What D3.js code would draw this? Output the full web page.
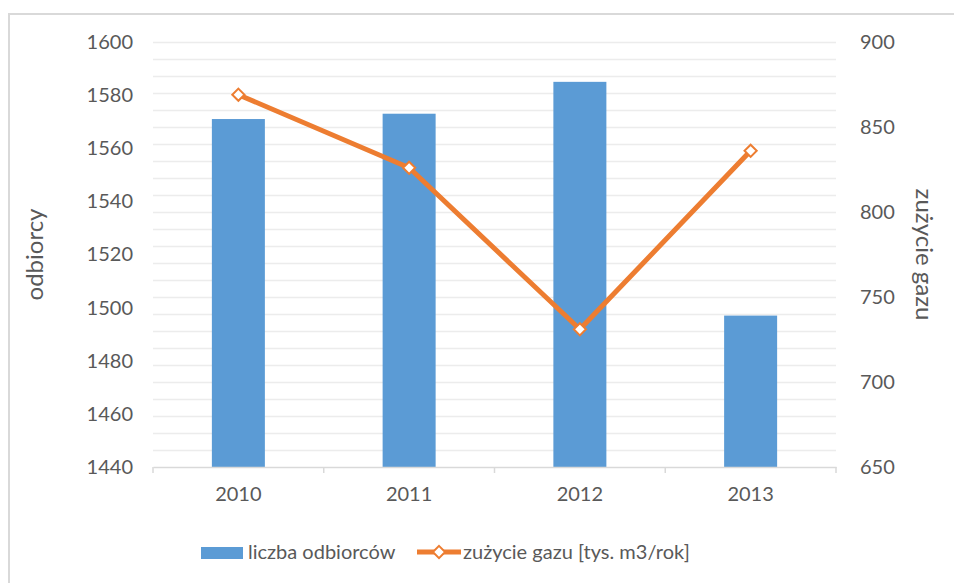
<!DOCTYPE html>
<html>
<head>
<meta charset="utf-8">
<script src="https://cdn.jsdelivr.net/npm/d3@7"></script>
<style>
  body { margin: 0; background: #fff; }
  text { font-family: Lato, "Open Sans", sans-serif; fill: #595959; }
</style>
</head>
<body>
<div id="chart"></div>
<script>
const years = ['2010', '2011', '2012', '2013']
const customers = [1571, 1573, 1585, 1497]
const gasUse = [869, 826, 731, 836]
const leftTicks = [1440, 1460, 1480, 1500, 1520, 1540, 1560, 1580, 1600]
const rightTicks = [650, 700, 750, 800, 850, 900]
const seriesNames = ['liczba odbiorców', 'zużycie gazu [tys. m3/rok]']

const W = 954, H = 583
const margin = { top: 42, right: 118, bottom: 116, left: 153 }
const width = W - margin.left - margin.right,
    height = H - margin.top - margin.bottom

const svg = d3.select('#chart')
    .append('svg')
    .attr('width', W)
    .attr('height', H)

// chart border
svg.append('rect')
    .attr('x', 9).attr('y', 14)
    .attr('width', W + 20).attr('height', H + 20)
    .attr('fill', 'none')
    .attr('stroke', '#d9d9d9')
    .attr('stroke-width', 2)

const g = svg.append('g')
    .attr('transform', 'translate(' + margin.left + ',' + margin.top + ')')

const xS = d3.scaleBand()
    .domain(years)
    .range([0, width])

const yL = d3.scaleLinear()
    .domain([1440, 1600])
    .range([height, 0])

const yR = d3.scaleLinear()
    .domain([650, 900])
    .range([height, 0])

// gridlines every 10 on the right scale
g.append('g')
    .call(d3.axisLeft(yR).tickValues(d3.range(660, 901, 10)).tickSize(-width).tickFormat(''))
    .call(a => a.select('.domain').remove())
    .call(a => a.selectAll('line').attr('stroke', '#ececec').attr('stroke-width', 1.5))

// left axis
g.append('g')
    .call(d3.axisLeft(yL).tickValues(leftTicks).tickFormat(d3.format('d')).tickSize(0).tickPadding(20))
    .call(a => a.select('.domain').remove())
    .selectAll('text')
    .style('font-size', '20px')

// right axis
g.append('g')
    .attr('transform', 'translate(' + width + ',0)')
    .call(d3.axisRight(yR).tickValues(rightTicks).tickSize(0).tickPadding(24))
    .call(a => a.select('.domain').remove())
    .selectAll('text')
    .style('font-size', '20px')

// bars
const barW = 53
g.selectAll('rect.bar')
    .data(customers)
    .enter()
    .append('rect')
    .attr('class', 'bar')
    .attr('fill', '#5b9bd5')
    .attr('x', (_, i) => xS(years[i]) + xS.bandwidth() / 2 - barW / 2)
    .attr('width', barW)
    .attr('y', d => yL(d))
    .attr('height', d => height - yL(d))

// x axis
g.append('g')
    .attr('transform', 'translate(0,' + height + ')')
    .call(d3.axisBottom(xS).tickSize(0).tickPadding(20))
    .call(a => a.select('.domain').attr('stroke', '#d9d9d9').attr('stroke-width', 1.5))
    .call(a => a.selectAll('text').style('font-size', '20px'))

// category separators on x axis
g.append('g')
    .selectAll('line')
    .data(d3.range(years.length + 1))
    .enter()
    .append('line')
    .attr('x1', i => i * xS.bandwidth())
    .attr('x2', i => i * xS.bandwidth())
    .attr('y1', height)
    .attr('y2', height + 6)
    .attr('stroke', '#d9d9d9')
    .attr('stroke-width', 1.5)

// line series
const line = d3.line()
    .x((_, i) => xS(years[i]) + xS.bandwidth() / 2)
    .y(d => yR(d))

g.append('path')
    .datum(gasUse)
    .attr('d', line)
    .attr('fill', 'none')
    .attr('stroke', '#ed7d31')
    .attr('stroke-width', 5)
    .attr('stroke-linejoin', 'round')

const diamond = d3.symbol().type(d3.symbolDiamond2).size(95)

g.selectAll('path.mk')
    .data(gasUse)
    .enter()
    .append('path')
    .attr('class', 'mk')
    .attr('d', diamond)
    .attr('transform', (d, i) => 'translate(' + (xS(years[i]) + xS.bandwidth() / 2) + ',' + yR(d) + ')')
    .attr('fill', '#fff')
    .attr('stroke', '#ed7d31')
    .attr('stroke-width', 2)

// axis titles
svg.append('text')
    .attr('transform', 'translate(43,' + (margin.top + height / 2) + ') rotate(-90)')
    .attr('text-anchor', 'middle')
    .style('font-size', '24px')
    .text('odbiorcy')

svg.append('text')
    .attr('transform', 'translate(916,' + (margin.top + height / 2) + ') rotate(90)')
    .attr('text-anchor', 'middle')
    .style('font-size', '24px')
    .text('zużycie gazu')

// legend
const leg = svg.append('g')
leg.append('rect')
    .attr('x', 201).attr('y', 547)
    .attr('width', 42).attr('height', 12)
    .attr('fill', '#5b9bd5')
leg.append('text')
    .attr('x', 248).attr('y', 559)
    .style('font-size', '20px')
    .text(seriesNames[0])
leg.append('line')
    .attr('x1', 417).attr('x2', 461)
    .attr('y1', 552).attr('y2', 552)
    .attr('stroke', '#ed7d31')
    .attr('stroke-width', 5)
leg.append('path')
    .attr('d', diamond)
    .attr('transform', 'translate(439,552)')
    .attr('fill', '#fff')
    .attr('stroke', '#ed7d31')
    .attr('stroke-width', 2)
leg.append('text')
    .attr('x', 463).attr('y', 559)
    .style('font-size', '20px')
    .text(seriesNames[1])
</script>
</body>
</html>
